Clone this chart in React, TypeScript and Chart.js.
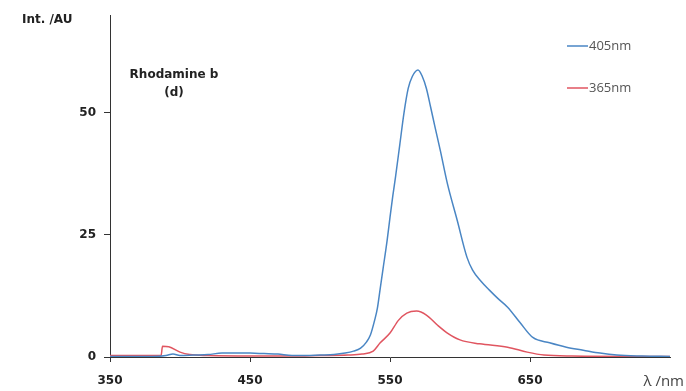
import React, { useEffect, useRef } from "react";
import { Chart, registerables } from "chart.js";

Chart.register(...registerables);

const blueNm = [350, 380, 390, 395, 400, 410, 420, 430, 440, 450, 460, 470, 480, 490, 500, 510, 518, 524, 529, 533, 536, 539, 541, 543, 545, 548, 550, 552, 554, 557, 560, 563, 566, 570, 573, 576, 579, 582, 586, 591, 598, 605, 609, 615, 621, 627, 634, 643, 652, 664, 676, 688, 700, 712, 730, 750];
const blueInt = [0.1, 0.1, 0.3, 0.6, 0.3, 0.4, 0.5, 0.8, 0.8, 0.8, 0.7, 0.6, 0.3, 0.3, 0.4, 0.5, 0.8, 1.2, 1.8, 3, 4.5, 7.5, 10, 14, 18, 24, 28.6, 33, 37, 43.5, 50, 55, 57.5, 58.8, 57.5, 55, 51.2, 47.3, 42.2, 35.5, 28, 20.4, 17.8, 15.5, 13.7, 12, 10.2, 7, 4, 2.9, 2, 1.4, 0.8, 0.4, 0.2, 0.1];

const redNm = [350, 370, 386.5, 387.5, 392, 400, 407, 420, 450, 480, 500, 520, 530, 538, 543, 550, 556, 562, 569, 576, 584, 591, 600, 614, 634, 648, 660, 680, 750];
const redInt = [0.3, 0.3, 0.3, 2.2, 2.1, 1.0, 0.5, 0.3, 0.2, 0.2, 0.3, 0.4, 0.6, 1.2, 2.9, 4.9, 7.5, 9, 9.4, 8.6, 6.5, 4.9, 3.5, 2.7, 2.0, 1.0, 0.4, 0.2, 0.1];

const xTicks = [350, 450, 550, 650];
const yTicks = [0, 25, 50];
const seriesLabels = ["405nm", "365nm"];
const seriesColors = ["#4a86c4", "#e05560"];

const textPlugin = {
  id: "texts",
  afterDraw(chart: any) {
    const ctx = chart.ctx;
    ctx.save();
    ctx.fillStyle = "#222";
    ctx.font = "bold 12px 'DejaVu Sans'";
    ctx.textAlign = "left";
    ctx.textBaseline = "middle";
    ctx.fillText("Int. /AU", 22, 20);
    ctx.textAlign = "center";
    ctx.fillText("Rhodamine b", 174, 75);
    ctx.fillText("(d)", 174, 93);
    ctx.font = "15px 'Open Sans'";
    ctx.fillStyle = "#444";
    ctx.textAlign = "right";
    ctx.fillText("λ /nm", 684, 382);
    const legendY = [46, 88];
    seriesLabels.forEach((lab, i) => {
      ctx.strokeStyle = seriesColors[i];
      ctx.lineWidth = 1.5;
      ctx.beginPath();
      ctx.moveTo(567, legendY[i]);
      ctx.lineTo(588, legendY[i]);
      ctx.stroke();
      ctx.fillStyle = "#555";
      ctx.font = "13px 'Open Sans'";
      ctx.textAlign = "left";
      ctx.fillText(lab, 589, legendY[i]);
    });
    ctx.restore();
  },
};

export default function App() {
  const ref = useRef<HTMLCanvasElement>(null);
  useEffect(() => {
    const chart = new Chart(ref.current!, {
      type: "line",
      data: {
        datasets: [
          {
            label: seriesLabels[0],
            data: blueNm.map((x, i) => ({ x, y: blueInt[i] })),
            borderColor: seriesColors[0],
            borderWidth: 1.5,
            pointRadius: 0,
            cubicInterpolationMode: "monotone",
          },
          {
            label: seriesLabels[1],
            data: redNm.map((x, i) => ({ x, y: redInt[i] })),
            borderColor: seriesColors[1],
            borderWidth: 1.5,
            pointRadius: 0,
            cubicInterpolationMode: "monotone",
          },
        ],
      },
      options: {
        animation: false,
        responsive: false,
        layout: { padding: { top: 12, right: 16, left: 0, bottom: 0 } },
        plugins: { legend: { display: false }, tooltip: { enabled: false } },
        scales: {
          x: {
            type: "linear",
            min: 350,
            max: 750,
            afterBuildTicks: (s: any) => {
              s.ticks = xTicks.map((v) => ({ value: v }));
            },
            afterFit: (s: any) => {
              s.height = 34;
            },
            grid: { drawOnChartArea: false, drawTicks: true, tickLength: 5, color: "#333" },
            border: { display: true, color: "#333", width: 1 },
            ticks: {
              padding: 12,
              color: "#222",
              font: { family: "DejaVu Sans", size: 12, weight: "bold" },
              maxRotation: 0,
            },
          },
          y: {
            min: 0,
            max: 70,
            afterBuildTicks: (s: any) => {
              s.ticks = yTicks.map((v) => ({ value: v }));
            },
            afterFit: (s: any) => {
              s.width = 110;
            },
            grid: { drawOnChartArea: false, drawTicks: true, tickLength: 6, color: "#333" },
            border: { display: true, color: "#333", width: 1 },
            ticks: {
              padding: 8,
              color: "#222",
              font: { family: "DejaVu Sans", size: 12, weight: "bold" },
            },
          },
        },
      },
      plugins: [textPlugin],
    } as any);
    return () => chart.destroy();
  }, []);
  return (
    <div style={{ position: "fixed", left: 0, top: 0, width: 686, height: 391, background: "#fff" }}>
      <canvas ref={ref} width={686} height={391} style={{ width: 686, height: 391 }} />
    </div>
  );
}
